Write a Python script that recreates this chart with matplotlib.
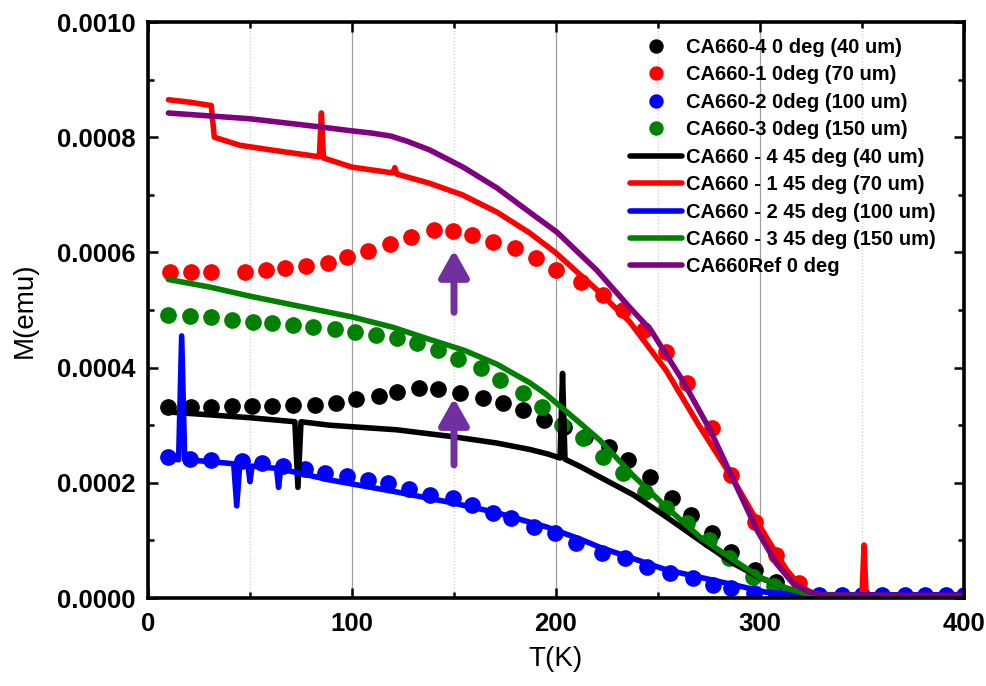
import matplotlib
matplotlib.use("Agg")
import matplotlib.pyplot as plt
from matplotlib.ticker import MultipleLocator, FormatStrFormatter

plt.rcParams['font.family'] = ['Liberation Sans', 'DejaVu Sans']

# --- measured points (0 deg), M in units of 1e-4 emu ---
t_dots_4 = [10, 21, 31, 41, 51, 61, 71, 82, 92, 102, 113, 122, 133, 142, 153, 164, 174,
            184, 194, 204, 214, 226, 235.5, 246, 257, 266, 276.5, 286, 297.5, 308, 318]
m_dots_4 = [3.32, 3.32, 3.32, 3.33, 3.34, 3.34, 3.35, 3.35, 3.38, 3.45, 3.50, 3.58, 3.64,
            3.62, 3.56, 3.47, 3.39, 3.26, 3.09, 2.97, 2.80, 2.62, 2.40, 2.10, 1.73, 1.44,
            1.13, 0.80, 0.49, 0.28, 0.08]

t_dots_1 = [11, 21, 31, 47.5, 58, 67, 77.5, 88, 97.5, 108, 118.5, 129, 140, 149.5, 159, 169,
            180, 190, 200, 212.5, 223, 233, 243, 254, 264, 276.5, 286, 297.5, 308, 319]
m_dots_1 = [5.66, 5.66, 5.66, 5.66, 5.70, 5.73, 5.76, 5.82, 5.92, 6.02, 6.15, 6.27, 6.39,
            6.37, 6.30, 6.18, 6.08, 5.90, 5.70, 5.49, 5.26, 5.00, 4.65, 4.27, 3.73, 2.95,
            2.14, 1.32, 0.75, 0.26]

t_dots_2 = [10, 20.5, 31, 46, 56, 66, 77, 87, 97.5, 108, 117.5, 128, 138, 149.5, 159, 169,
            178, 189, 199.5, 210, 222.5, 234, 244.5, 256, 267, 277, 286, 297, 308, 319, 329,
            340, 350, 360, 371, 381, 391, 400]
m_dots_2 = [2.45, 2.41, 2.40, 2.38, 2.34, 2.29, 2.24, 2.17, 2.12, 2.05, 2.00, 1.89, 1.79,
            1.73, 1.61, 1.48, 1.39, 1.23, 1.13, 0.95, 0.78, 0.70, 0.54, 0.43, 0.35, 0.22,
            0.17, 0.09, 0.05, 0.05, 0.05, 0.05, 0.05, 0.05, 0.05, 0.05, 0.05, 0.05]

t_dots_3 = [10, 20.5, 31, 41, 51.5, 61, 71, 81, 91.5, 101.5, 112, 122, 132, 142, 152, 163,
            172.5, 184, 193, 203, 213, 223, 233, 243.5, 254, 264, 275, 285, 296.5, 307, 318]
m_dots_3 = [4.91, 4.90, 4.88, 4.83, 4.79, 4.77, 4.74, 4.70, 4.67, 4.62, 4.57, 4.51, 4.43,
            4.31, 4.15, 3.99, 3.78, 3.56, 3.32, 3.00, 2.78, 2.45, 2.17, 1.84, 1.56, 1.30,
            1.00, 0.70, 0.36, 0.20, 0.09]

# --- measured curves (45 deg and reference), M in units of 1e-4 emu ---
t_line_4 = [10, 30, 50, 72, 73.5, 75, 89, 122, 149.5, 171, 187, 196, 202, 203.2, 204.4,
            212, 221.5, 238, 254, 270.5, 287, 300, 313, 322, 330, 400]
m_line_4 = [3.23, 3.18, 3.13, 3.06, 1.92, 3.06, 3.00, 2.92, 2.80, 2.69, 2.58, 2.50, 2.43,
            3.90, 2.41, 2.28, 2.10, 1.79, 1.41, 1.00, 0.60, 0.35, 0.17, 0.07, 0.05, 0.05]

t_line_1 = [10, 20, 31, 32.5, 45, 60, 84, 85, 86, 100, 120, 121, 122, 138, 154, 171, 187,
            200, 220, 236, 254, 270, 287, 303, 313, 320, 326, 332, 350, 351, 352, 400]
m_line_1 = [8.65, 8.61, 8.55, 8.00, 7.86, 7.78, 7.66, 8.42, 7.64, 7.48, 7.38, 7.47, 7.36,
            7.20, 7.00, 6.70, 6.34, 5.99, 5.35, 4.80, 3.95, 3.00, 2.05, 1.06, 0.49, 0.20,
            0.08, 0.05, 0.05, 0.92, 0.05, 0.05]

t_line_2 = [10, 15, 16.5, 18, 30, 42, 43.5, 45, 49, 50, 51, 63, 64, 65, 89, 122, 149.5,
            171, 195.6, 212, 221.5, 254, 287, 303, 320, 400]
m_line_2 = [2.43, 2.40, 4.55, 2.40, 2.37, 2.33, 1.60, 2.32, 2.30, 2.02, 2.29, 2.25, 1.92,
            2.24, 2.05, 1.84, 1.65, 1.48, 1.23, 1.02, 0.88, 0.49, 0.23, 0.10, 0.06, 0.05]

t_line_3 = [10, 30, 50, 75, 100, 120, 138, 155, 171, 187, 195, 203, 212, 221.5, 238, 254,
            270.5, 287, 300, 313, 322, 330, 400]
m_line_3 = [5.53, 5.40, 5.24, 5.06, 4.88, 4.70, 4.49, 4.30, 4.06, 3.74, 3.54, 3.30, 3.03,
            2.74, 2.12, 1.58, 1.06, 0.66, 0.36, 0.17, 0.08, 0.05, 0.03]

t_ref = [10, 50, 84, 100, 110, 119, 127, 138, 154.5, 171, 187, 200.5, 220, 236, 246.5, 262,
         275.5, 287, 298.5, 308, 316, 323, 330, 400]
m_ref = [8.42, 8.32, 8.18, 8.11, 8.07, 8.02, 7.93, 7.78, 7.48, 7.12, 6.70, 6.35, 5.69, 5.05,
         4.65, 3.78, 2.92, 2.05, 1.18, 0.60, 0.26, 0.12, 0.05, 0.04]

arrow_t = 150
arrows = [(4.96, 6.04), (2.31, 3.47)]  # (tail, head)


def emu(vals):
    return [v * 1e-4 for v in vals]


fig = plt.figure(figsize=(9.87, 6.86), dpi=100)
ax = fig.add_axes([148 / 987, 88 / 686, 816 / 987, 576 / 686])

ms = 11
ax.plot(t_dots_4, emu(m_dots_4), 'o', color='black', ms=ms, label='CA660-4 0 deg (40 um)')
ax.plot(t_dots_1, emu(m_dots_1), 'o', color='red', ms=ms, label='CA660-1 0deg (70 um)')
ax.plot(t_dots_2, emu(m_dots_2), 'o', color='blue', ms=ms, label='CA660-2 0deg (100 um)')
ax.plot(t_dots_3, emu(m_dots_3), 'o', color='green', ms=ms, label='CA660-3 0deg (150 um)')

lw = 4
kw = dict(lw=lw, solid_joinstyle='round', solid_capstyle='round')
ax.plot(t_line_4, emu(m_line_4), '-', color='black', label='CA660 - 4 45 deg (40 um)', **kw)
ax.plot(t_line_1, emu(m_line_1), '-', color='red', label='CA660 - 1 45 deg (70 um)', **kw)
ax.plot(t_line_2, emu(m_line_2), '-', color='blue', label='CA660 - 2 45 deg (100 um)', **kw)
ax.plot(t_line_3, emu(m_line_3), '-', color='green', label='CA660 - 3 45 deg (150 um)', **kw)
ax.plot(t_ref, emu(m_ref), '-', color='purple', label='CA660Ref 0 deg', **kw)

for tail, head in arrows:
    ax.annotate('', xy=(arrow_t, head * 1e-4), xytext=(arrow_t, tail * 1e-4),
                arrowprops=dict(arrowstyle='-|>,head_width=0.9,head_length=1.6',
                                color='#7030a0', lw=5, shrinkA=0, shrinkB=0,
                                joinstyle='round'))

ax.set_xlim(0, 400)
ax.set_ylim(0, 0.001)
ax.xaxis.set_major_locator(MultipleLocator(100))
ax.xaxis.set_minor_locator(MultipleLocator(50))
ax.yaxis.set_major_locator(MultipleLocator(0.0002))
ax.yaxis.set_minor_locator(MultipleLocator(0.0001))
ax.yaxis.set_major_formatter(FormatStrFormatter('%.4f'))

ax.set_axisbelow(True)
ax.grid(True, which='major', axis='x', color='#a0a0a0', lw=0.9)
ax.grid(True, which='minor', axis='x', color='#cfcfcf', lw=0.9, ls=':')

for s in ax.spines.values():
    s.set_linewidth(2.6)
ax.tick_params(which='both', direction='in', top=True, right=True, width=1.8)
ax.tick_params(which='major', length=7)
ax.tick_params(which='minor', length=4)
ax.tick_params(axis='y', pad=9)
ax.tick_params(axis='x', pad=10)
for lab in ax.get_xticklabels() + ax.get_yticklabels():
    lab.set_fontweight('bold')
    lab.set_fontsize(18.5)

ax.set_xlabel('T(K)', fontsize=20, labelpad=7)
ax.set_ylabel('M(emu)', fontsize=20, labelpad=14)

leg = ax.legend(loc='upper left', bbox_to_anchor=(0.578, 0.99), frameon=False,
                prop={'weight': 'bold', 'size': 14.5}, handlelength=2.6,
                handletextpad=0.2, labelspacing=0.42, borderpad=0, markerscale=0.85)

fig.savefig('out.png', dpi=100)
